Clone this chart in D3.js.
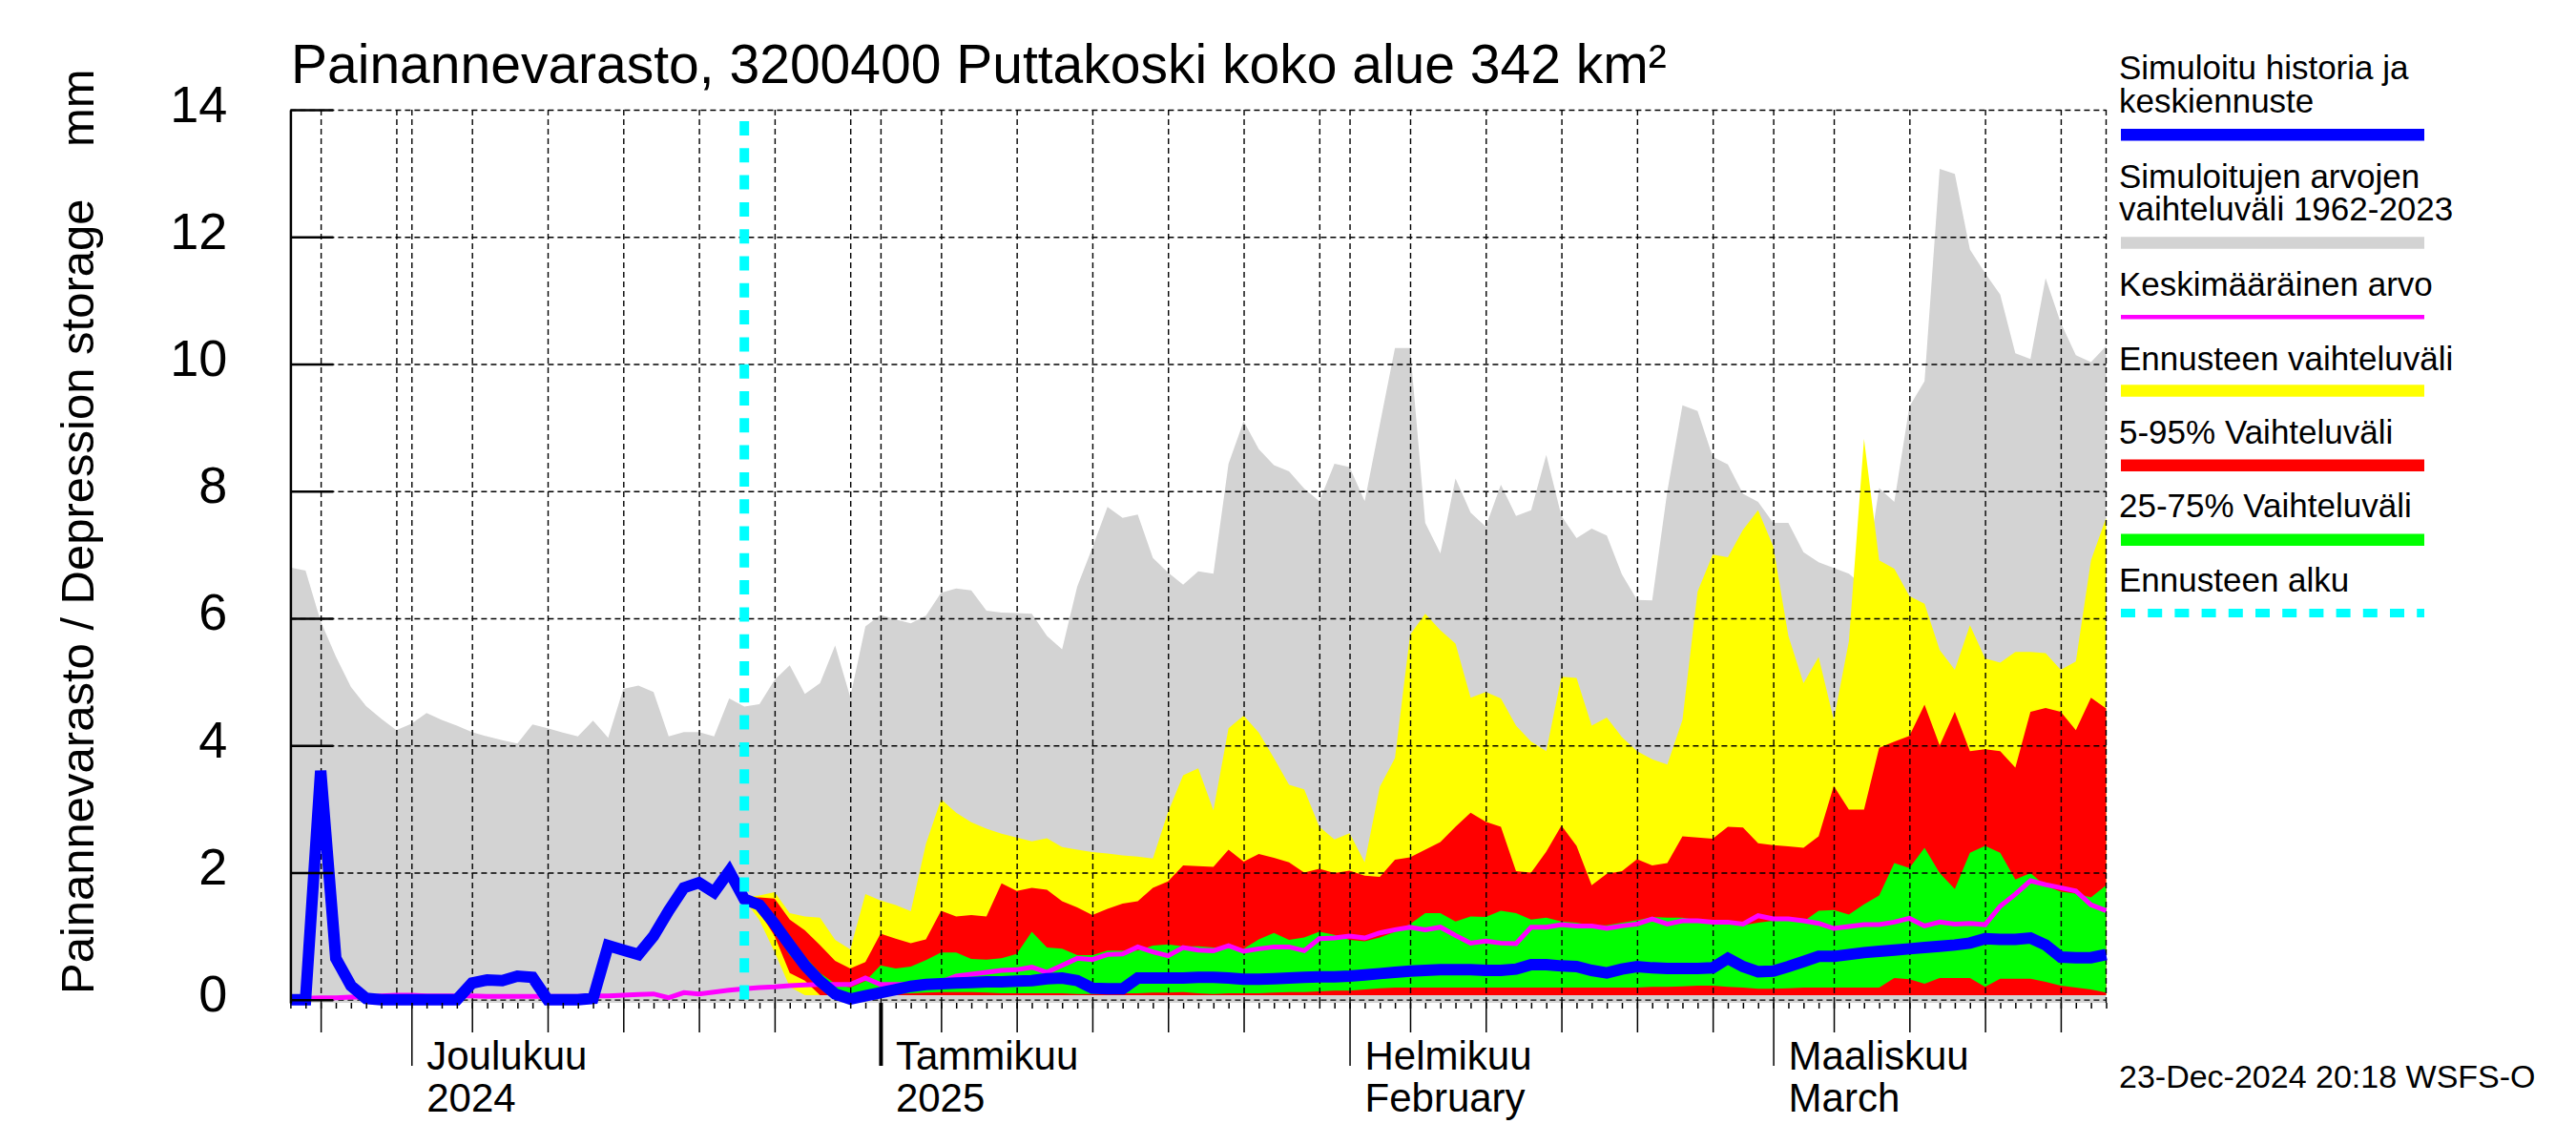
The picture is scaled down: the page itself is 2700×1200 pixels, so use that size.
<!DOCTYPE html>
<html>
<head>
<meta charset="utf-8">
<script src="https://cdn.jsdelivr.net/npm/d3@7"></script>
<style>
  html, body { margin: 0; padding: 0; background: #fff; }
  svg { display: block; font-family: "Liberation Sans", Arial, Helvetica, sans-serif; }
</style>
</head>
<body>
<script>
// day 0 = 23 Nov 2024, one value per day up to 23 Mar 2025
const startDay = new Date(2024, 10, 23);
const endDay = new Date(2025, 2, 23);
const forecastStart = new Date(2024, 11, 23);
const forecastIndex = 30;

// simulated range 1962-2023, upper edge (days 0..120)
const simMax = [
  6.80, 6.75, 5.95, 5.40, 4.92, 4.62, 4.42, 4.24, 4.34, 4.51,
  4.40, 4.31, 4.21, 4.14, 4.08, 4.03, 4.33, 4.27, 4.20, 4.14,
  4.39, 4.12, 4.89, 4.94, 4.84, 4.14, 4.21, 4.21, 4.14, 4.74,
  4.61, 4.65, 5.03, 5.26, 4.81, 4.98, 5.57, 4.76, 5.87, 6.05,
  5.98, 5.92, 6.04, 6.40, 6.47, 6.44, 6.12, 6.09, 6.08, 6.07,
  5.72, 5.51, 6.50, 7.11, 7.75, 7.58, 7.63, 6.95, 6.72, 6.53,
  6.74, 6.70, 8.43, 9.10, 8.66, 8.41, 8.31, 8.04, 7.84, 8.43,
  8.38, 7.84, 9.05, 10.25, 10.25, 7.50, 7.02, 8.20, 7.66, 7.44,
  8.10, 7.61, 7.70, 8.57, 7.61, 7.26, 7.41, 7.30, 6.69, 6.29,
  6.28, 8.00, 9.35, 9.26, 8.54, 8.42, 7.96, 7.83, 7.50, 7.50,
  7.04, 6.88, 6.79, 6.70, 6.50, 8.05, 7.83, 9.33, 9.73, 13.07,
  12.99, 11.80, 11.43, 11.09, 10.17, 10.08, 11.35, 10.65, 10.14, 10.03,
  10.28
];
const simMin = -0.05;

// simulated history + median forecast (days 0..120)
const median = [
  0.00, 0.00, 3.60, 0.65, 0.22, 0.02, 0.00, 0.00, 0.00, 0.00,
  0.00, 0.00, 0.26, 0.31, 0.30, 0.37, 0.35, 0.00, 0.00, 0.00,
  0.02, 0.85, 0.78, 0.71, 1.00, 1.40, 1.76, 1.84, 1.69, 2.02,
  1.58, 1.49, 1.19, 0.86, 0.54, 0.29, 0.09, 0.01, 0.06, 0.11,
  0.16, 0.21, 0.24, 0.25, 0.26, 0.27, 0.28, 0.28, 0.29, 0.30,
  0.33, 0.34, 0.30, 0.18, 0.17, 0.17, 0.34, 0.34, 0.34, 0.34,
  0.35, 0.35, 0.34, 0.32, 0.32, 0.33, 0.34, 0.35, 0.36, 0.36,
  0.37, 0.39, 0.41, 0.43, 0.45, 0.46, 0.47, 0.47, 0.47, 0.46,
  0.46, 0.48, 0.55, 0.55, 0.53, 0.52, 0.46, 0.42, 0.48, 0.52,
  0.50, 0.49, 0.49, 0.49, 0.50, 0.65, 0.52, 0.44, 0.45, 0.52,
  0.60, 0.68, 0.68, 0.71, 0.74, 0.76, 0.78, 0.80, 0.82, 0.84,
  0.86, 0.89, 0.96, 0.95, 0.95, 0.97, 0.86, 0.67, 0.66, 0.66,
  0.71
];

// long-term mean (days 0..120)
const mean = [
  0.02, 0.02, 0.03, 0.03, 0.04, 0.04, 0.06, 0.07, 0.07, 0.06,
  0.06, 0.06, 0.06, 0.05, 0.05, 0.05, 0.05, 0.05, 0.05, 0.05,
  0.06, 0.06, 0.07, 0.08, 0.09, 0.03, 0.11, 0.09, 0.12, 0.15,
  0.17, 0.19, 0.20, 0.22, 0.23, 0.24, 0.24, 0.24, 0.34, 0.24,
  0.24, 0.24, 0.25, 0.28, 0.37, 0.40, 0.43, 0.46, 0.47, 0.51,
  0.43, 0.54, 0.65, 0.63, 0.71, 0.72, 0.83, 0.75, 0.69, 0.82,
  0.78, 0.77, 0.85, 0.76, 0.80, 0.83, 0.83, 0.77, 0.96, 0.97,
  1.00, 0.97, 1.05, 1.10, 1.14, 1.10, 1.14, 1.01, 0.89, 0.92,
  0.89, 0.88, 1.14, 1.14, 1.18, 1.16, 1.16, 1.12, 1.16, 1.19,
  1.27, 1.19, 1.24, 1.24, 1.22, 1.22, 1.19, 1.32, 1.27, 1.27,
  1.24, 1.20, 1.12, 1.15, 1.18, 1.18, 1.22, 1.28, 1.16, 1.22,
  1.19, 1.20, 1.18, 1.47, 1.66, 1.87, 1.81, 1.76, 1.71, 1.49,
  1.40
];

// forecast bands, days 30..120 (23 Dec .. 23 Mar)
const yellowHigh = [
  1.61, 1.64, 1.69, 1.36, 1.31, 1.29, 0.94, 0.79, 1.66, 1.56,
  1.49, 1.39, 2.45, 3.15, 2.94, 2.79, 2.69, 2.61, 2.55, 2.49,
  2.54, 2.40, 2.36, 2.32, 2.30, 2.27, 2.25, 2.22, 2.95, 3.53,
  3.64, 2.98, 4.27, 4.47, 4.20, 3.80, 3.38, 3.31, 2.72, 2.52,
  2.62, 2.16, 3.35, 3.80, 5.74, 6.07, 5.81, 5.60, 4.75, 4.84,
  4.74, 4.31, 4.06, 3.91, 5.08, 5.06, 4.31, 4.44, 4.13, 3.91,
  3.78, 3.70, 4.40, 6.42, 7.00, 6.96, 7.39, 7.70, 7.13, 5.72,
  4.98, 5.39, 4.40, 5.64, 8.82, 6.91, 6.78, 6.35, 6.23, 5.50,
  5.19, 5.89, 5.37, 5.30, 5.47, 5.47, 5.45, 5.19, 5.32, 6.91,
  7.58
];
const yellowLow = [
  1.58, 1.25, 0.75, 0.20, 0.07, 0.07, 0.07, 0.07, 0.07, 0.07,
  0.07, 0.07, 0.07, 0.07, 0.07, 0.07, 0.07, 0.07, 0.07, 0.07,
  0.07, 0.07, 0.07, 0.07, 0.07, 0.07, 0.07, 0.07, 0.07, 0.07,
  0.07, 0.07, 0.07, 0.07, 0.07, 0.07, 0.07, 0.07, 0.07, 0.07,
  0.07, 0.07, 0.07, 0.07, 0.07, 0.07, 0.07, 0.07, 0.07, 0.07,
  0.07, 0.07, 0.07, 0.07, 0.07, 0.07, 0.07, 0.07, 0.07, 0.07,
  0.07, 0.07, 0.07, 0.07, 0.07, 0.07, 0.07, 0.07, 0.07, 0.07,
  0.07, 0.07, 0.07, 0.07, 0.07, 0.07, 0.07, 0.07, 0.07, 0.07,
  0.07, 0.07, 0.07, 0.07, 0.07, 0.07, 0.07, 0.07, 0.07, 0.07,
  0.07
];
const redHigh = [
  1.60, 1.61, 1.59, 1.26, 1.09, 0.86, 0.61, 0.49, 0.59, 1.04,
  0.96, 0.89, 0.95, 1.40, 1.31, 1.33, 1.31, 1.83, 1.71, 1.76,
  1.73, 1.55, 1.45, 1.33, 1.43, 1.51, 1.55, 1.76, 1.86, 2.11,
  2.10, 2.09, 2.36, 2.17, 2.29, 2.23, 2.16, 2.00, 2.06, 1.99,
  2.03, 1.95, 1.93, 2.20, 2.24, 2.36, 2.48, 2.72, 2.94, 2.80,
  2.72, 2.02, 2.00, 2.33, 2.74, 2.42, 1.80, 1.98, 2.02, 2.21,
  2.11, 2.15, 2.57, 2.55, 2.53, 2.72, 2.71, 2.46, 2.43, 2.41,
  2.39, 2.57, 3.36, 2.99, 2.99, 3.96, 4.06, 4.15, 4.64, 4.00,
  4.53, 3.91, 3.94, 3.91, 3.65, 4.53, 4.59, 4.53, 4.24, 4.75,
  4.58
];
const redLow = [
  1.58, 1.38, 1.00, 0.42, 0.30, 0.07, 0.07, 0.07, 0.07, 0.07,
  0.07, 0.07, 0.07, 0.07, 0.07, 0.07, 0.07, 0.07, 0.07, 0.07,
  0.07, 0.07, 0.07, 0.07, 0.07, 0.07, 0.07, 0.07, 0.07, 0.07,
  0.07, 0.07, 0.07, 0.07, 0.07, 0.07, 0.07, 0.07, 0.07, 0.07,
  0.07, 0.07, 0.07, 0.07, 0.07, 0.07, 0.07, 0.07, 0.07, 0.07,
  0.07, 0.07, 0.07, 0.07, 0.07, 0.07, 0.07, 0.07, 0.07, 0.07,
  0.07, 0.07, 0.07, 0.07, 0.07, 0.07, 0.07, 0.07, 0.07, 0.07,
  0.07, 0.07, 0.07, 0.07, 0.07, 0.07, 0.07, 0.07, 0.07, 0.07,
  0.07, 0.07, 0.07, 0.07, 0.07, 0.07, 0.07, 0.07, 0.07, 0.07,
  0.07
];
const greenHigh = [
  1.58, 1.55, 1.30, 1.00, 0.68, 0.42, 0.25, 0.19, 0.29, 0.54,
  0.49, 0.52, 0.62, 0.74, 0.74, 0.64, 0.63, 0.65, 0.72, 1.07,
  0.82, 0.80, 0.70, 0.70, 0.77, 0.77, 0.77, 0.85, 0.87, 0.84,
  0.84, 0.82, 0.82, 0.80, 0.95, 1.05, 0.94, 0.98, 1.07, 1.02,
  0.94, 0.92, 0.98, 1.07, 1.19, 1.36, 1.36, 1.23, 1.31, 1.30,
  1.40, 1.36, 1.26, 1.29, 1.23, 1.21, 1.17, 1.17, 1.21, 1.25,
  1.30, 1.29, 1.29, 1.25, 1.21, 1.19, 1.17, 1.21, 1.24, 1.26,
  1.23, 1.40, 1.41, 1.34, 1.50, 1.64, 2.15, 2.07, 2.39, 1.99,
  1.74, 2.31, 2.42, 2.31, 1.89, 1.99, 1.79, 1.70, 1.67, 1.61,
  1.80
];
const greenLow = [
  1.58, 1.45, 1.10, 0.70, 0.45, 0.25, 0.12, 0.10, 0.08, 0.08,
  0.09, 0.10, 0.11, 0.12, 0.12, 0.12, 0.11, 0.10, 0.10, 0.10,
  0.10, 0.10, 0.09, 0.09, 0.09, 0.10, 0.10, 0.11, 0.11, 0.12,
  0.10, 0.09, 0.10, 0.10, 0.10, 0.11, 0.12, 0.12, 0.13, 0.14,
  0.14, 0.16, 0.18, 0.19, 0.19, 0.19, 0.19, 0.19, 0.19, 0.19,
  0.19, 0.19, 0.19, 0.19, 0.19, 0.19, 0.19, 0.19, 0.19, 0.19,
  0.20, 0.20, 0.21, 0.22, 0.22, 0.20, 0.19, 0.17, 0.17, 0.18,
  0.19, 0.19, 0.19, 0.19, 0.19, 0.19, 0.34, 0.32, 0.25, 0.34,
  0.34, 0.34, 0.20, 0.33, 0.33, 0.33, 0.28, 0.22, 0.19, 0.16,
  0.11
];

const yTicks = [0, 2, 4, 6, 8, 10, 12, 14];
const monthLabels = [
  { date: new Date(2024, 11, 1), fi: "Joulukuu", en: "2024" },
  { date: new Date(2025, 0, 1), fi: "Tammikuu", en: "2025" },
  { date: new Date(2025, 1, 1), fi: "Helmikuu", en: "February" },
  { date: new Date(2025, 2, 1), fi: "Maaliskuu", en: "March" }
];
const legendItems = [
  { text: ["Simuloitu historia ja", "keskiennuste"], color: "#0000ff", kind: "thick" },
  { text: ["Simuloitujen arvojen", "vaihteluväli 1962-2023"], color: "#d3d3d3", kind: "thick" },
  { text: ["Keskimääräinen arvo"], color: "#ff00ff", kind: "thin" },
  { text: ["Ennusteen vaihteluväli"], color: "#ffff00", kind: "thick" },
  { text: ["5-95% Vaihteluväli"], color: "#ff0000", kind: "thick" },
  { text: ["25-75% Vaihteluväli"], color: "#00ff00", kind: "thick" },
  { text: ["Ennusteen alku"], color: "#00ffff", kind: "dash" }
];

// ---- layout ----
const W = 2700, H = 1200;
const plot = { left: 304.4, right: 2207.5, top: 115, bottom: 1051 };

const svg = d3.select("body").append("svg")
    .attr("width", W)
    .attr("height", H);

const x = d3.scaleTime()
    .domain([startDay, endDay])
    .range([plot.left, plot.right]);

const y = d3.scaleLinear()
    .domain([simMin, 14])
    .range([plot.bottom, plot.top]);

const dayOf = i => d3.timeDay.offset(startDay, i);

const histRows = simMax.map((v, i) => ({ date: dayOf(i), max: v, med: median[i], mean: mean[i] }));
const fcRows = yellowHigh.map((v, i) => ({
  date: dayOf(forecastIndex + i),
  yl: yellowLow[i], yh: v,
  rl: redLow[i], rh: redHigh[i],
  gl: greenLow[i], gh: greenHigh[i]
}));

// gray range
svg.append("path")
    .datum(histRows)
    .attr("fill", "#d3d3d3")
    .attr("d", d3.area().x(d => x(d.date)).y0(y(simMin)).y1(d => y(d.max)));

const band = (lo, hi, color) => svg.append("path")
    .datum(fcRows)
    .attr("fill", color)
    .attr("d", d3.area().x(d => x(d.date)).y0(d => y(d[lo])).y1(d => y(d[hi])));

band("yl", "yh", "#ffff00");
band("rl", "rh", "#ff0000");
band("gl", "gh", "#00ff00");

// grid
const allDays = d3.timeDay.range(startDay, d3.timeDay.offset(endDay, 1));
const gridDays = allDays.filter(d => [1, 5, 10, 15, 20, 25, 30].includes(d.getDate()));

svg.append("g")
    .attr("transform", `translate(0,${plot.bottom})`)
    .call(d3.axisBottom(x).tickValues(gridDays).tickSize(-(plot.bottom - plot.top)).tickFormat(""))
    .call(g => g.select(".domain").remove())
    .call(g => g.selectAll("line").attr("stroke", "#000").attr("stroke-width", 1.4).attr("stroke-dasharray", "6,4"));

svg.append("g")
    .attr("transform", `translate(${plot.left},0)`)
    .call(d3.axisLeft(y).tickValues(yTicks).tickSize(-(plot.right - plot.left)).tickFormat(""))
    .call(g => g.select(".domain").remove())
    .call(g => g.selectAll("line").attr("stroke", "#000").attr("stroke-width", 1.4).attr("stroke-dasharray", "6,4"));

// right frame
svg.append("line")
    .attr("x1", x(endDay)).attr("x2", x(endDay))
    .attr("y1", y(14)).attr("y2", y(simMin))
    .attr("stroke", "#000").attr("stroke-width", 1.4).attr("stroke-dasharray", "6,4");

// mean and median lines
svg.append("path")
    .datum(histRows)
    .attr("fill", "none")
    .attr("stroke", "#ff00ff")
    .attr("stroke-width", 5)
    .attr("d", d3.line().x(d => x(d.date)).y(d => y(d.mean)));

svg.append("path")
    .datum(histRows)
    .attr("fill", "none")
    .attr("stroke", "#0000ff")
    .attr("stroke-width", 12)
    .attr("d", d3.line().x(d => x(d.date)).y(d => y(d.med)));

// forecast start
svg.append("line")
    .attr("x1", x(forecastStart)).attr("x2", x(forecastStart))
    .attr("y1", 127).attr("y2", y(0))
    .attr("stroke", "#00ffff")
    .attr("stroke-width", 10)
    .attr("stroke-dasharray", "15,13.3");

// y axis
const yAxis = svg.append("g")
    .attr("transform", `translate(${plot.left},0)`)
    .call(d3.axisLeft(y).tickValues(yTicks).tickSize(-45).tickSizeOuter(0).tickPadding(66));
yAxis.select(".domain").attr("stroke", "#000").attr("stroke-width", 2.5);
yAxis.selectAll(".tick line").attr("stroke", "#000").attr("stroke-width", 2.5);
yAxis.selectAll(".tick text")
    .attr("dy", 12)
    .attr("fill", "#000")
    .style("font-size", "54px")
    .style("font-family", "'Liberation Sans', Arial, sans-serif");

// x axis ticks
const tickAxis = (values, size, width) => svg.append("g")
    .attr("transform", `translate(0,${plot.bottom})`)
    .call(d3.axisBottom(x).tickValues(values).tickSize(size).tickFormat(""))
    .call(g => g.select(".domain").remove())
    .call(g => g.selectAll("line").attr("stroke", "#000").attr("stroke-width", width));

tickAxis(allDays, 6, 1.5);
tickAxis(allDays.filter(d => [5, 10, 15, 20, 25].includes(d.getDate())), 31, 1.5);
tickAxis(monthLabels.map(m => m.date).filter(d => d.getMonth() !== 0), 66, 1.5);
tickAxis([monthLabels[1].date], 66, 4);

const mlab = svg.append("g")
    .style("font-size", "42px")
    .attr("fill", "#000");
monthLabels.forEach(m => {
  mlab.append("text").attr("x", x(m.date) + 16).attr("y", 1121).text(m.fi);
  mlab.append("text").attr("x", x(m.date) + 16).attr("y", 1165).text(m.en);
});

// title and axis title
svg.append("text")
    .attr("x", 305).attr("y", 87)
    .style("font-size", "57px")
    .text("Painannevarasto, 3200400 Puttakoski koko alue 342 km²");

svg.append("text")
    .attr("transform", "translate(98,1042) rotate(-90)")
    .attr("xml:space", "preserve")
    .style("white-space", "pre")
    .style("font-size", "49px")
    .text("Painannevarasto / Depression storage    mm");

// legend
const lg = svg.append("g").attr("transform", "translate(2221,0)");
const legendLayout = [
  { textY: [83, 118], lineY: 141.3, w: 12.5 },
  { textY: [196.5, 231], lineY: 254.5, w: 12.5 },
  { textY: [309.6], lineY: 332.3, w: 4.5 },
  { textY: [388], lineY: 409.6, w: 12.5 },
  { textY: [464.7], lineY: 487.7, w: 12.5 },
  { textY: [542], lineY: 565.7, w: 12.5 },
  { textY: [619.8], lineY: 642.6, w: 9 }
];
legendItems.forEach((item, i) => {
  const L = legendLayout[i];
  item.text.forEach((t, j) => {
    lg.append("text").attr("x", 0).attr("y", L.textY[j]).style("font-size", "35px").text(t);
  });
  lg.append("line")
      .attr("x1", 2).attr("x2", 320)
      .attr("y1", L.lineY).attr("y2", L.lineY)
      .attr("stroke", item.color)
      .attr("stroke-width", L.w)
      .attr("stroke-dasharray", item.kind === "dash" ? "15,13.2" : null);
});

svg.append("text")
    .attr("x", 2221).attr("y", 1140)
    .style("font-size", "34px")
    .text("23-Dec-2024 20:18 WSFS-O");
</script>
</body>
</html>
